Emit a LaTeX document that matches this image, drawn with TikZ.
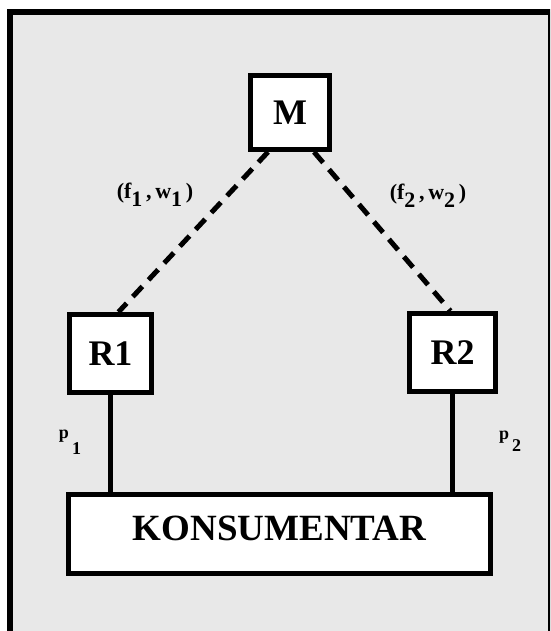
\documentclass[tikz,border=0pt]{standalone}
\usepackage{fontspec}
\setmainfont{Liberation Serif}
\usepackage{xcolor}
\definecolor{pagegray}{RGB}{232,232,232}
\usetikzlibrary{positioning,calc}

\begin{document}
\begin{tikzpicture}[x=1pt, y=-1pt,
  unit/.style={rectangle, draw=black, line width=5pt, fill=white,
              minimum width=82pt, minimum height=78pt,
              font=\fontsize{36}{40}\selectfont\bfseries},
  lbl/.style={font=\fontsize{22}{24}\selectfont\bfseries, inner sep=0pt},
  plbl/.style={font=\fontsize{18}{20}\selectfont\bfseries, inner sep=0pt},
  link/.style={line width=5pt, draw=black, dash pattern=on 14pt off 9pt},
  wire/.style={line width=4.5pt, draw=black}
]
\clip (0,0) rectangle (550,631);
\useasboundingbox (0,0) rectangle (550,631);
% frame
\draw[line width=6pt, fill=pagegray] (10,12) rectangle (551,645);

\node[unit, minimum width=79pt, minimum height=74pt] (M) at (290,112.5) {M};
\node[unit] (R1) at (110.5,353.5) {R1};
\node[unit, minimum width=86pt] (R2) at (452.5,352.5) {R2};
\node[unit, minimum width=422pt, minimum height=79pt, text depth=12pt,
      font=\fontsize{37}{40}\selectfont\bfseries] (kons) at (279.5,534) {KONSUMENTAR};

% M -- retailers
\draw[link] ([xshift=20pt]M.south west) -- ([xshift=8pt]R1.north);
\draw[link] ([xshift=-18pt]M.south east) -- ([xshift=-2pt]R2.north);
\node[lbl] (c1) at (155,195) {(f\raisebox{-8pt}{1}\,,\,w\raisebox{-8pt}{1}\,)};
\node[lbl] (c2) at (428,196) {(f\raisebox{-8pt}{2}\,,\,w\raisebox{-8pt}{2}\,)};

% retailers -- consumer
\draw[wire] (R1.south) -- (R1.south |- kons.north);
\draw[wire] (R2.south) -- (R2.south |- kons.north);
\node[plbl] (p1) at (70,442) {p\,\raisebox{-16pt}{1}};
\node[plbl] (p2) at (510,441) {p\,\raisebox{-12pt}{2}};
\end{tikzpicture}
\end{document}
